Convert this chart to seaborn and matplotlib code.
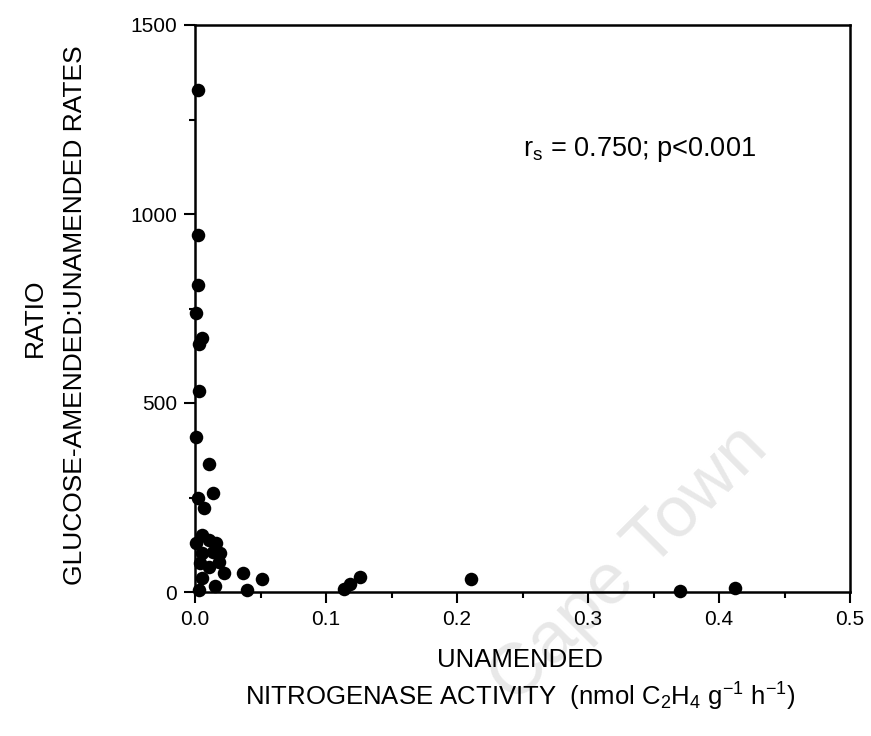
import numpy as np
import pandas as pd
import matplotlib
matplotlib.use("Agg")
import matplotlib.pyplot as plt
import seaborn as sns
from matplotlib.ticker import MultipleLocator

# Data
activity = [0.002, 0.002, 0.002, 0.001, 0.005, 0.003, 0.003, 0.001, 0.011, 0.014, 0.002, 0.007,
            0.005, 0.001, 0.011, 0.016, 0.005, 0.014, 0.019, 0.004, 0.018, 0.011,
            0.005, 0.022, 0.037, 0.051, 0.015, 0.040, 0.003,
            0.114, 0.118, 0.126, 0.211, 0.370, 0.412]
ratio = [1328, 945, 811, 739, 673, 657, 533, 409, 338, 261, 248, 221,
         150, 129, 137, 129, 103, 105, 103, 77, 79, 66,
         37, 50, 50, 34, 16, 5, 5,
         8, 21, 40, 34, 3, 10]
x_ticks = [0.0, 0.1, 0.2, 0.3, 0.4, 0.5]
x_tick_labels = ["0.0", "0.1", "0.2", "0.3", "0.4", "0.5"]
y_ticks = [0, 500, 1000, 1500]
y_tick_labels = ["0", "500", "1000", "1500"]
stat_text = r"r$_\mathregular{s}$ = 0.750; p<0.001"

df = pd.DataFrame({"activity": activity, "ratio": ratio})

sns.set_style("ticks")
plt.rcParams["font.family"] = ["Liberation Sans", "DejaVu Sans"]
plt.rcParams["mathtext.fontset"] = "custom"
plt.rcParams["mathtext.rm"] = "Liberation Sans"
plt.rcParams["mathtext.it"] = "Liberation Sans"
plt.rcParams["text.color"] = "black"
plt.rcParams["axes.labelcolor"] = "black"
plt.rcParams["xtick.color"] = "black"
plt.rcParams["ytick.color"] = "black"

fig = plt.figure(figsize=(8.71, 7.36), dpi=100)
W, H = 871, 736
left, right, top, bottom = 195, 850, 25, 592
ax = fig.add_axes([left / W, 1 - bottom / H, (right - left) / W, (bottom - top) / H])

# scanned-page watermark (drawn beneath the axes)
fig.text(630 / W, 1 - 565 / H, "Cape Town", fontsize=52, color="#e8e8e8",
         rotation=45, ha="center", va="center", zorder=-1)

sns.scatterplot(data=df, x="activity", y="ratio", ax=ax, color="black",
                s=95, edgecolor="black", linewidth=0, zorder=3, clip_on=False)

ax.set_xlim(0, 0.5)
ax.set_ylim(0, 1500)
ax.set_xticks(x_ticks)
ax.set_xticklabels(x_tick_labels)
ax.set_yticks(y_ticks)
ax.set_yticklabels(y_tick_labels)
ax.xaxis.set_minor_locator(MultipleLocator(0.05))
ax.yaxis.set_minor_locator(MultipleLocator(250))
ax.tick_params(axis="both", which="major", direction="out", length=8, width=1.5,
               labelsize=15, color="black", labelcolor="black", pad=5)
ax.tick_params(axis="both", which="minor", direction="out", length=4, width=1.5,
               color="black")
ax.tick_params(axis="both", which="both", top=False, right=False)
for sp in ax.spines.values():
    sp.set_visible(True)
    sp.set_linewidth(1.8)
    sp.set_color("black")
ax.set_facecolor("none")
ax.set_xlabel("")
ax.set_ylabel("")

ax.text(0.25, 1154, stat_text, fontsize=19.5, ha="left", va="baseline", color="black")

fig.text(520 / W, 1 - 660 / H, "UNAMENDED", fontsize=18.5, ha="center", va="center")
fig.text(520 / W, 1 - 697 / H,
         r"NITROGENASE ACTIVITY  (nmol C$_\mathregular{2}$H$_\mathregular{4}$ g$^\mathregular{-1}$ h$^\mathregular{-1}$)",
         fontsize=18.5, ha="center", va="center")
fig.text(35 / W, 1 - 318 / H, "RATIO", fontsize=19, rotation=90, ha="center", va="center")
fig.text(75 / W, 1 - 315 / H, "GLUCOSE-AMENDED:UNAMENDED RATES", fontsize=19,
         rotation=90, ha="center", va="center")

fig.savefig("out.png", dpi=100)
